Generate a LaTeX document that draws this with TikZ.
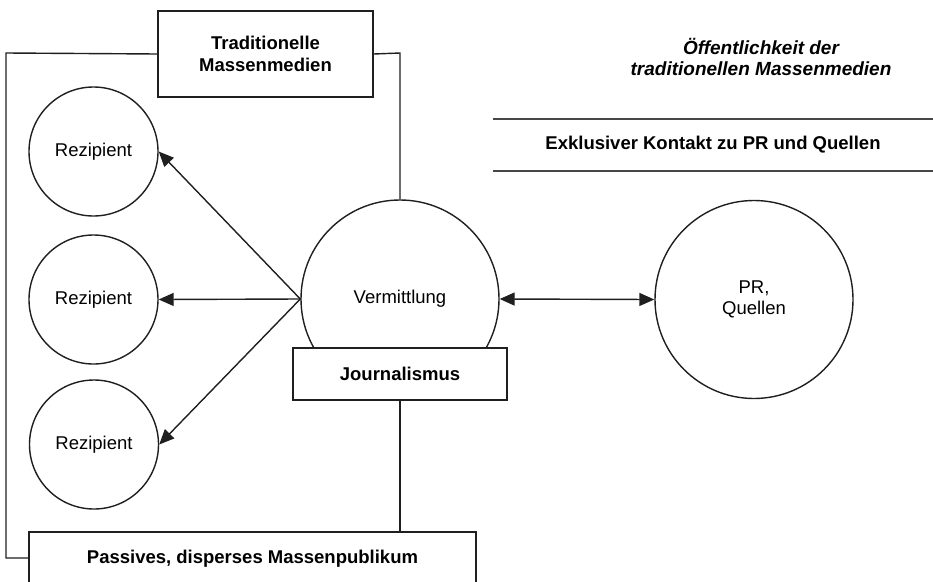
\documentclass[tikz,border=0pt]{standalone}
\usepackage{fontspec}
\setmainfont{Liberation Sans}
\usetikzlibrary{arrows.meta}

\begin{document}
\begin{tikzpicture}[x=1pt, y=-1pt,
  every node/.style={font=\fontsize{18.5}{21.5}\selectfont, align=center, inner sep=0pt},
  line/.style={draw=black!88, line width=1.4pt},
  ring/.style={circle, line, fill=white, inner sep=0pt},
  bigring/.style={ring, minimum size=198pt},
  smallring/.style={ring, minimum size=129pt},
  labelbox/.style={rectangle, line, fill=white, font=\bfseries\fontsize{18.5}{21.5}\selectfont},
  tip/.style={-{Triangle[length=15pt, width=13pt]}},
  bitip/.style={{Triangle[length=15pt, width=13pt]}-{Triangle[length=15pt, width=13pt]}}
]
\useasboundingbox (0,0) rectangle (933,581);
\clip (0,0) rectangle (933,581);

% circles
\node[bigring] (verm) at (400,299) {Vermittlung};
\node[bigring] (pr) at (754,299.5) {PR,\\Quellen};
\node[smallring] (rez1) at (93.5,151.5) {Rezipient};
\node[smallring] (rez2) at (93.5,299.5) {Rezipient};
\node[smallring] (rez3) at (94,444.5) {Rezipient};

% boxes
\node[labelbox, minimum width=215pt, minimum height=86pt] (trad) at (265.5,54) {Traditionelle\\Massenmedien};
\node[labelbox, minimum width=214pt, minimum height=52pt] (journ) at (400,374) {Journalismus};
\node[labelbox, minimum width=447pt, minimum height=54pt] (pub) at (252.5,559) {Passives, disperses Massenpublikum};

% exclusive contact band, ruled above and below only
\node[minimum width=440pt, minimum height=52pt, font=\bfseries\fontsize{18.5}{21.5}\selectfont] (exkl) at (713,145) {Exklusiver Kontakt zu PR und Quellen};
\draw[draw=black!72, line width=2pt] (exkl.north west) -- (exkl.north east);
\draw[draw=black!72, line width=2pt] (exkl.south west) -- (exkl.south east);

% heading
\node[font=\bfseries\itshape\fontsize{19}{21}\selectfont] (head) at (761,57) {Öffentlichkeit der\\traditionellen Massenmedien};

% frame of the mass media
\coordinate (fl) at (6,53);
\coordinate (fb) at (6,558);
\coordinate (fr) at (400,53);
\draw[line] (trad.west) -- (fl) -- (fb) -- (pub.west |- fb);
\draw[line] (trad.east) -- (fr) -- (verm.north);
\draw[line] (journ.south) -- (journ.south |- pub.north);

% journalism box sits over the circle
\node[labelbox, minimum width=214pt, minimum height=52pt] at (journ) {Journalismus};

% connectors
\draw[line, tip] (verm.west) -- (rez1.east);
\draw[line, tip] (verm.west) -- (rez2.east);
\draw[line, tip] (verm.west) -- (rez3.east);
\draw[line, bitip] (verm.east) -- (pr.west);
\end{tikzpicture}
\end{document}
